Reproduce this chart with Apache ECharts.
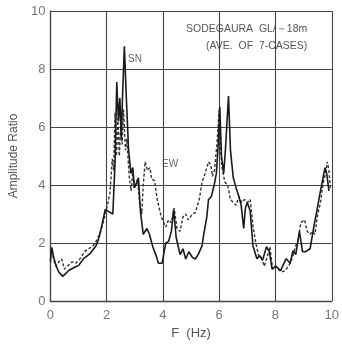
<!DOCTYPE html>
<html><head><meta charset="utf-8">
<script src="https://cdn.jsdelivr.net/npm/echarts@6/dist/echarts.min.js"></script>
<style>html,body{margin:0;padding:0;background:#fff}#c{width:342px;height:345px}</style>
</head><body><div id="c"></div>
<script>
var xTicks = [0, 2, 4, 6, 8, 10];
var yTicks = [0, 2, 4, 6, 8, 10];
var freqSN = [0.00,0.05,0.12,0.2,0.3,0.44,0.55,0.65,0.78,0.9,1.0,1.1,1.18,1.3,1.41,1.5,1.62,1.7,1.78,1.85,1.95,2.05,2.13,2.22,2.3,2.36,2.42,2.47,2.52,2.57,2.63,2.7,2.78,2.86,2.93,2.98,3.03,3.13,3.2,3.3,3.43,3.52,3.64,3.77,3.84,3.97,4.1,4.2,4.3,4.38,4.47,4.61,4.71,4.81,4.92,5.05,5.15,5.25,5.39,5.45,5.56,5.62,5.72,5.82,5.9,5.97,6.02,6.08,6.16,6.22,6.33,6.4,6.5,6.6,6.7,6.78,6.87,6.93,7.0,7.1,7.2,7.34,7.44,7.54,7.68,7.78,7.88,8.01,8.18,8.38,8.52,8.62,8.72,8.85,8.96,9.06,9.23,9.36,9.46,9.56,9.7,9.76,9.82,9.9,10.0];
var ampSN = [1.36,1.85,1.5,1.22,1.0,0.85,0.95,1.05,1.12,1.18,1.22,1.35,1.46,1.55,1.63,1.75,1.9,2.1,2.38,2.7,3.16,3.1,3.05,3.0,4.8,7.55,6.2,7.0,5.6,7.2,8.78,7.0,5.2,4.4,4.6,3.9,4.0,4.25,3.1,2.3,2.5,2.3,1.87,1.53,1.3,1.3,2.0,2.05,2.4,3.15,2.2,1.6,1.8,1.45,1.7,1.5,1.45,1.6,1.9,2.3,2.9,3.5,3.6,4.0,4.4,5.5,6.7,5.0,4.4,5.2,7.07,5.2,4.25,3.9,3.6,3.3,2.5,3.2,3.4,3.1,1.9,1.46,1.56,1.4,1.87,1.7,1.1,1.2,1.05,1.46,1.3,1.73,1.6,2.4,1.7,1.7,1.8,2.55,3.05,3.6,4.3,4.6,4.4,3.8];
var freqEW = [0.00,0.05,0.12,0.2,0.3,0.4,0.5,0.6,0.78,0.9,1.05,1.24,1.35,1.5,1.68,1.85,2.02,2.12,2.2,2.25,2.3,2.35,2.4,2.45,2.5,2.55,2.6,2.67,2.72,2.8,2.87,2.93,3.0,3.1,3.18,3.25,3.3,3.37,3.45,3.54,3.6,3.7,3.8,3.94,4.1,4.2,4.3,4.4,4.5,4.61,4.71,4.81,4.9,5.05,5.15,5.29,5.39,5.5,5.62,5.7,5.76,5.83,5.92,6.0,6.05,6.1,6.2,6.3,6.4,6.5,6.6,6.7,6.8,6.9,7.0,7.1,7.2,7.3,7.4,7.5,7.6,7.7,7.8,7.9,8.0,8.1,8.2,8.35,8.52,8.6,8.72,8.8,8.9,9.03,9.13,9.23,9.3,9.4,9.5,9.6,9.7,9.78,9.84,9.9,9.95,10.0];
var ampEW = [1.7,1.8,1.4,1.2,1.35,1.45,1.1,1.2,1.35,1.3,1.45,1.73,1.8,1.87,2.14,2.6,3.27,3.74,4.9,4.5,6.5,5.0,6.3,5.0,6.0,5.4,6.6,5.2,5.6,4.3,3.8,4.5,3.9,4.2,3.3,3.0,4.0,4.8,4.5,4.6,4.2,4.15,3.5,2.9,2.55,2.8,2.7,3.2,2.5,2.4,2.9,3.0,2.8,3.0,3.05,3.5,4.1,4.4,4.8,4.7,4.3,4.5,5.4,6.6,5.2,4.6,4.1,4.0,3.5,3.4,3.3,3.6,3.4,3.5,3.4,3.5,2.6,2.0,1.56,1.5,1.2,1.5,1.87,1.1,1.2,1.1,1.0,1.05,1.3,1.5,1.9,2.07,2.7,2.8,2.4,2.3,2.4,2.3,3.0,3.4,4.1,4.4,4.8,4.5,3.85];

function zip(xs, ys){ return xs.map(function(x,i){ return [x, ys[i]]; }); }

var chart = echarts.init(document.getElementById('c'), null, {renderer:'canvas'});
var gridColor = '#444';
chart.setOption({
  backgroundColor: '#ffffff',
  animation: false,
  grid: {left: 35, right: 10, top: 11, bottom: 40, show: false},
  xAxis: {
    type: 'value', min: xTicks[0], max: xTicks[xTicks.length-1], interval: 2,
    name: 'F  (Hz)', nameLocation: 'middle', nameGap: 26,
    nameTextStyle: {fontSize: 13, color: '#555', fontFamily: 'Liberation Sans'},
    axisLine: {show: true, lineStyle: {color: gridColor, width: 1.3}},
    axisTick: {show: false},
    axisLabel: {fontSize: 13, color: '#777', margin: 8, fontFamily: 'Liberation Sans'},
    splitLine: {show: true, lineStyle: {color: gridColor, width: 1.1}}
  },
  yAxis: {
    type: 'value', min: yTicks[0], max: yTicks[yTicks.length-1], interval: 2,
    name: 'Amplitude Ratio', nameLocation: 'middle', nameGap: 25,
    nameTextStyle: {fontSize: 12, color: '#555', fontFamily: 'Liberation Sans'},
    axisLine: {show: true, lineStyle: {color: gridColor, width: 1.3}},
    axisTick: {show: false},
    axisLabel: {fontSize: 13, color: '#777', margin: 5, fontFamily: 'Liberation Sans'},
    splitLine: {show: true, lineStyle: {color: gridColor, width: 1.1}}
  },
  series: [
    {name: 'EW', type: 'line', data: zip(freqEW, ampEW), symbol: 'none',
     lineStyle: {color: '#333', width: 1.4, type: [3, 2]}},
    {name: 'SN', type: 'line', data: zip(freqSN, ampSN), symbol: 'none',
     lineStyle: {color: '#1a1a1a', width: 1.6}}
  ],
  graphic: [
    {type: 'text', left: 186, top: 24, style: {text: 'SODEGAURA  GL/－18m', fontSize: 10.5, fill: '#555', fontFamily: 'Liberation Sans'}},
    {type: 'text', left: 206, top: 41, style: {text: '(AVE.  OF  7-CASES)', fontSize: 10.5, fill: '#555', fontFamily: 'Liberation Sans'}},
    {type: 'text', left: 128, top: 54, style: {text: 'SN', fontSize: 10, fill: '#666', fontFamily: 'Liberation Sans'}},
    {type: 'text', left: 162, top: 159, style: {text: 'EW', fontSize: 10, fill: '#666', fontFamily: 'Liberation Sans'}}
  ]
});
</script></body></html>
